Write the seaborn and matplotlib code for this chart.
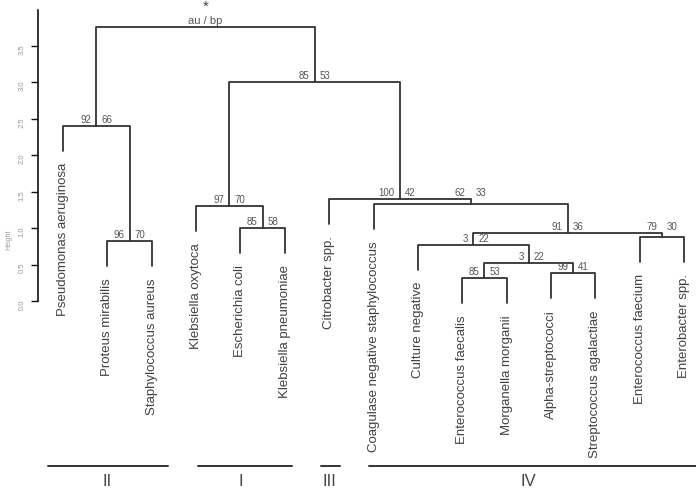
import numpy as np
import pandas as pd
import matplotlib
matplotlib.use("Agg")
import matplotlib.pyplot as plt
import seaborn as sns

sns.set_style("white")
plt.rcParams['font.family'] = ['Liberation Sans', 'DejaVu Sans']

# -----------------------------
# DATA
# -----------------------------

# leaves in the order they are drawn
leaves = ["Pseudomonas aeruginosa", "Proteus mirabilis", "Staphylococcus aureus",
          "Klebsiella oxytoca", "Escherichia coli", "Klebsiella pneumoniae",
          "Citrobacter spp.", "Coagulase negative staphylococcus", "Culture negative",
          "Enterococcus faecalis", "Morganella morganii", "Alpha-streptococci",
          "Streptococcus agalactiae", "Enterococcus faecium", "Enterobacter spp."]

# hclust-style merges: negative = leaf number, positive = earlier merge
merge_left = [-10, -12, 1, -9, -2, -14, 4, -5, -4, -8, -7, -1, 9, 12]
merge_right = [-11, -13, 2, 3, -3, -15, 6, -6, 8, 7, 10, 5, 11, 13]
heights = [0.31, 0.38, 0.52, 0.77, 0.82, 0.88, 0.93, 1.00, 1.30, 1.33, 1.40, 2.40, 3.00, 3.75]
au = [85, 99, 3, 3, 96, 79, 91, 85, 97, 62, 100, 92, 85, None]
bp = [53, 41, 22, 22, 70, 30, 36, 58, 70, 33, 42, 66, 53, None]

# clusters marked under the tree
group_names = ["II", "I", "III", "IV"]
group_first = [1, 4, 7, 8]
group_last = [3, 6, 7, 15]

# -----------------------------
# LAYOUT
# -----------------------------

fig = plt.figure(figsize=(6.96, 4.89), dpi=100)
ax = fig.add_axes([0, 0, 1, 1])
px_x = 1 / 44.36
px_y = 1 / 73.0
hang = 0.1 * (max(heights) - min(heights))

line_col = "#333333"
num_col = "#555555"

# node positions
node_x = {}
for k in range(len(heights)):
    xs = []
    for c in (merge_left[k], merge_right[k]):
        xs.append(-c if c < 0 else node_x[c])
    node_x[k + 1] = np.mean(xs)

rows = []
leaf_end = {}
for k in range(len(heights)):
    h = heights[k]
    pts = []
    for c in (merge_left[k], merge_right[k]):
        if c < 0:
            x, yb = -c, h - hang
            leaf_end[-c] = yb
        else:
            x, yb = node_x[c], heights[c - 1]
        pts.append((x, yb))
    (xl, yl), (xr, yr) = pts
    for x, y in [(xl, yl), (xl, h), (xr, h), (xr, yr)]:
        rows.append({"x": x, "y": y, "seg": k})
seg_df = pd.DataFrame(rows)

sns.lineplot(data=seg_df, x="x", y="y", units="seg", estimator=None, sort=False,
             color=line_col, linewidth=1.3, ax=ax)

# leaf labels
for i, name in enumerate(leaves, start=1):
    ax.text(i, leaf_end[i] - 11 * px_y, name, rotation=90, rotation_mode="anchor",
            ha="right", va="center", fontsize=9.5, color="#404040")

# au / bp values
nudge = {10: 5, 6: 4}
for k in range(len(heights)):
    if au[k] is None:
        continue
    y = heights[k] + (7 + nudge.get(k + 1, 0)) * px_y
    ax.text(node_x[k + 1] - 5 * px_x, y, str(au[k]), ha="right", va="center",
            fontsize=7, color=num_col)
    ax.text(node_x[k + 1] + 5 * px_x, y, str(bp[k]), ha="left", va="center",
            fontsize=7, color=num_col)

root_x = node_x[len(heights)]
ax.text(root_x, heights[-1] + 7 * px_y, "au / bp", ha="center", va="center",
        fontsize=8, color=num_col)
ax.text(root_x, heights[-1] + 21 * px_y, "*", ha="center", va="center",
        fontsize=11, color="#444444")

# group bars and numerals
pad_left = [0.34, -0.04, 0.18, 0.1]
pad_right = [0.37, 0.16, 0.24, 0.5]
bar_y = (302 - 467) * px_y
num_y = (302 - 482) * px_y
for g, name in enumerate(group_names):
    x0 = group_first[g] - pad_left[g]
    x1 = group_last[g] + pad_right[g]
    ax.plot([x0, x1], [bar_y, bar_y], color=line_col, lw=1.4)
    ax.text((group_first[g] + group_last[g]) / 2, num_y, name, ha="center",
            va="center", fontsize=12, color="#444444")

# -----------------------------
# AXES
# -----------------------------

ax.set_xlim(1 - 63 * px_x, 1 + 633 * px_x)
ax.set_ylim(-187 * px_y, 302 * px_y)
ax.set_xlabel("")
ax.set_ylabel("")
ax.set_xticks([])
for s in ["top", "right", "bottom"]:
    ax.spines[s].set_visible(False)
ax.spines["left"].set_position(("data", 1 - 25 * px_x))
ax.spines["left"].set_bounds(0, 3.98)
ax.spines["left"].set_color("#111111")
ax.spines["left"].set_linewidth(1.2)
ticks = np.arange(0, 4, 0.5)
ax.set_yticks(ticks)
ax.set_yticklabels([f"{t:.1f}" for t in ticks])
ax.tick_params(axis="y", left=True, length=5, width=1, color="#111111",
               labelsize=5.5, labelcolor="#999999", pad=4, labelrotation=90)
ax.text(1 - 54 * px_x, 0.85, "Height", rotation=90, ha="center", va="center",
        fontsize=5, color="#999999")

fig.savefig("out.png", dpi=100)
